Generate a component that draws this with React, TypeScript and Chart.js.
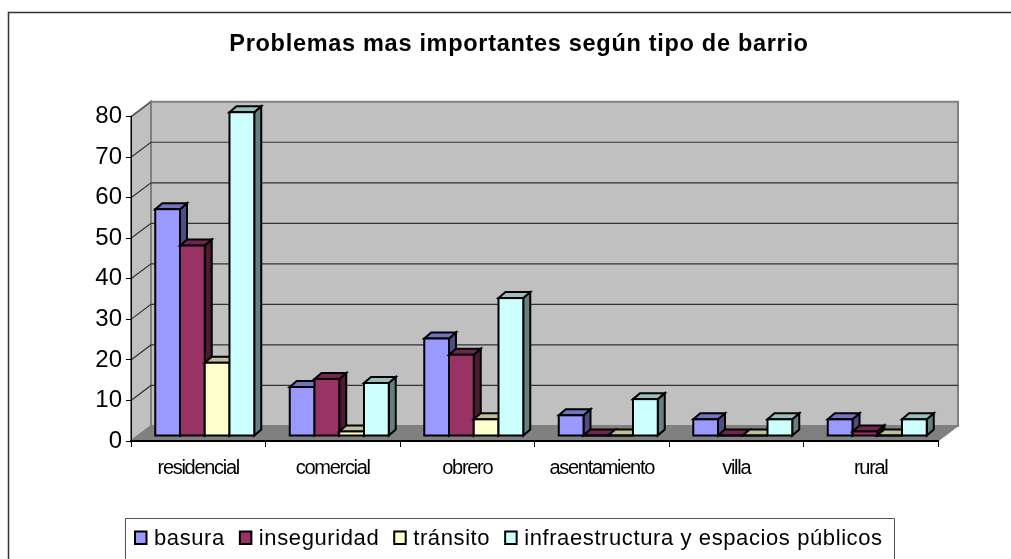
import React, { useEffect, useRef } from "react";
import { Chart, registerables } from "chart.js";

Chart.register(...registerables);

const categories = ["residencial", "comercial", "obrero", "asentamiento", "villa", "rural"];
const basura = [56, 12, 24, 5, 4, 4];
const inseguridad = [47, 14, 20, 0, 0, 1];
const transito = [18, 1, 4, 0, 0, 0];
const infraestructura = [80, 13, 34, 9, 4, 4];
const seriesNames = ["basura", "inseguridad", "tránsito", "infraestructura y espacios públicos"];
const frontColors = ["#9999FF", "#993366", "#FFFFCC", "#CCFFFF"];
const topColors = ["#7373BF", "#73264D", "#BFBF99", "#99BFBF"];
const sideColors = ["#4D4D80", "#4D1A33", "#808066", "#668080"];

const WALL_DX = 20;
const WALL_DY = -15;
const BAR_DX = 6.5;
const BAR_DY = -5.5;
const DEPTH_DX = 7;
const DEPTH_DY = -6;

const poly = (ctx: CanvasRenderingContext2D, pts: number[][], fill: string | null, stroke: string | null, lw = 1) => {
  ctx.beginPath();
  pts.forEach((p, i) => (i ? ctx.lineTo(p[0], p[1]) : ctx.moveTo(p[0], p[1])));
  ctx.closePath();
  if (fill) {
    ctx.fillStyle = fill;
    ctx.fill();
  }
  if (stroke) {
    ctx.strokeStyle = stroke;
    ctx.lineWidth = lw;
    ctx.stroke();
  }
};

const spaced = (obj: any, method: string, ctx: any, spacing: string) => {
  if (obj["__spaced_" + method]) return;
  obj["__spaced_" + method] = true;
  const original = obj[method];
  obj[method] = function (...args: any[]) {
    ctx.letterSpacing = spacing;
    const result = original.apply(this, args);
    ctx.letterSpacing = "0px";
    return result;
  };
};

const scene = {
  id: "scene",
  beforeLayout(chart: any) {
    chart.ctx.letterSpacing = "0.6px";
  },
  afterLayout(chart: any) {
    const { ctx } = chart;
    ctx.letterSpacing = "0px";
    const lg = chart.legend;
    lg.left = 120;
    lg.right = 900;
    lg.top = 513;
    lg.bottom = 559;
    chart.titleBlock.left = 27;
    chart.titleBlock.right = 1011;
    spaced(chart.titleBlock, "draw", ctx, "0.7px");
    spaced(lg, "draw", ctx, "0.6px");
    spaced(chart.scales.x, "drawLabels", ctx, "-1.3px");
  },
  beforeDraw(chart: any) {
    const { ctx, chartArea: a, scales } = chart;
    ctx.save();
    ctx.fillStyle = "#ffffff";
    ctx.fillRect(0, 0, chart.width, chart.height);
    ctx.strokeStyle = "#333333";
    ctx.lineWidth = 1.5;
    ctx.beginPath();
    ctx.moveTo(8.5, 559);
    ctx.lineTo(8.5, 12.5);
    ctx.lineTo(1011, 12.5);
    ctx.stroke();
    ctx.strokeStyle = "#555555";
    ctx.lineWidth = 1;
    ctx.beginPath();
    ctx.moveTo(125.5, 559);
    ctx.lineTo(125.5, 518.5);
    ctx.lineTo(894.5, 518.5);
    ctx.lineTo(894.5, 559);
    ctx.stroke();
    const bx0 = a.left + WALL_DX;
    const bx1 = a.right + WALL_DX;
    const by0 = a.top + WALL_DY;
    const by1 = a.bottom + WALL_DY;
    poly(ctx, [[a.left, a.top], [bx0, by0], [bx0, by1], [a.left, a.bottom]], "#C0C0C0", "#808080", 2);
    poly(ctx, [[bx0, by0], [bx1, by0], [bx1, by1], [bx0, by1]], "#C0C0C0", "#808080", 2);
    poly(ctx, [[a.left, a.bottom], [a.right, a.bottom], [bx1, by1], [bx0, by1]], "#808080", null);
    ctx.strokeStyle = "#808080";
    ctx.lineWidth = 1;
    ctx.beginPath();
    ctx.moveTo(a.right, a.bottom);
    ctx.lineTo(bx1, by1);
    ctx.stroke();
    ctx.strokeStyle = "#333333";
    ctx.lineWidth = 1.2;
    scales.y.ticks.forEach((t: any) => {
      if (t.value === 0 || t.value === 80) return;
      const y = scales.y.getPixelForValue(t.value);
      ctx.beginPath();
      ctx.moveTo(a.left, y);
      ctx.lineTo(bx0, y + WALL_DY);
      ctx.lineTo(bx1, y + WALL_DY);
      ctx.stroke();
    });
    ctx.strokeStyle = "#555555";
    ctx.beginPath();
    ctx.moveTo(a.left, a.top);
    ctx.lineTo(bx0, by0);
    ctx.stroke();
    ctx.restore();
  },
  beforeDatasetsDraw(chart: any) {
    const { ctx } = chart;
    ctx.save();
    ctx.lineJoin = "miter";
    chart.data.datasets.forEach((_: any, di: number) => {
      const meta = chart.getDatasetMeta(di);
      meta.data.forEach((el: any) => {
        const { x, y, base, width } = el.getProps(["x", "y", "base", "width"], true);
        const l = x - width / 2 + BAR_DX;
        const r = x + width / 2 + BAR_DX;
        const t = y + BAR_DY;
        const b = base + BAR_DY;
        poly(ctx, [[r, t], [r + DEPTH_DX, t + DEPTH_DY], [r + DEPTH_DX, b + DEPTH_DY], [r, b]], sideColors[di], "#000000", 2);
        poly(ctx, [[l, t], [l + DEPTH_DX, t + DEPTH_DY], [r + DEPTH_DX, t + DEPTH_DY], [r, t]], topColors[di], "#000000", 2);
        ctx.save();
        ctx.translate(BAR_DX, BAR_DY);
        el.draw(ctx);
        ctx.restore();
        ctx.strokeStyle = "#000000";
        ctx.lineWidth = 2;
        ctx.strokeRect(l, t, r - l, b - t);
      });
    });
    ctx.restore();
    return false;
  },
  afterDraw(chart: any) {
    const { ctx } = chart;
    ctx.save();
    chart.legend.legendHitBoxes.forEach((hit: any, i: number) => {
      ctx.fillStyle = frontColors[i];
      ctx.strokeStyle = "#000000";
      ctx.lineWidth = 2;
      ctx.fillRect(hit.left, 531.5, 11.5, 12.5);
      ctx.strokeRect(hit.left, 531.5, 11.5, 12.5);
    });
    ctx.restore();
  },
};

export default function App() {
  const ref = useRef<HTMLCanvasElement>(null);
  useEffect(() => {
    const seriesValues = [basura, inseguridad, transito, infraestructura];
    const chart = new Chart(ref.current as HTMLCanvasElement, {
      type: "bar",
      data: {
        labels: categories,
        datasets: seriesValues.map((values, i) => ({
          label: seriesNames[i],
          data: values,
          backgroundColor: frontColors[i],
          borderColor: "#000000",
          borderWidth: 0,
          borderSkipped: false,
          yAxisID: "yBars",
          categoryPercentage: 0.736,
          barPercentage: 1,
        })),
      },
      options: {
        responsive: false,
        animation: false,
        layout: { padding: { left: 0, right: 73, top: 0, bottom: 0 } },
        plugins: {
          title: {
            display: true,
            text: "Problemas mas importantes según tipo de barrio",
            color: "#000000",
            font: { family: "'Liberation Sans'", size: 23.5, weight: "bold", lineHeight: 1.2 },
            padding: { top: 30, bottom: 58.5 },
          },
          legend: {
            display: true,
            position: "bottom",
            align: "start",
            labels: {
              color: "#000000",
              boxWidth: 8,
              boxHeight: 8,
              padding: 15,
              font: { family: "'Liberation Sans'", size: 22 },
              generateLabels: (c: any) =>
                c.data.datasets.map((d: any, i: number) => ({
                  text: d.label,
                  fillStyle: "rgba(0,0,0,0)",
                  strokeStyle: "rgba(0,0,0,0)",
                  lineWidth: 0,
                  datasetIndex: i,
                  fontColor: "#000000",
                })),
            },
          },
          tooltip: { enabled: false },
        },
        scales: {
          x: {
            type: "category",
            grid: { drawOnChartArea: false, color: "#000000", tickLength: 6 },
            border: { color: "#000000", width: 2 },
            ticks: { color: "#000000", padding: 9, maxRotation: 0, autoSkip: false, font: { family: "'Liberation Sans'", size: 20 } },
            afterFit: (s: any) => {
              s.height = 118 - (s.chart.legend?.height ?? 0);
            },
          },
          y: {
            min: 0,
            max: 80,
            grid: { drawOnChartArea: false, color: "#000000", tickLength: 5 },
            border: { color: "#000000", width: 1 },
            ticks: { stepSize: 10, color: "#000000", padding: 4, font: { family: "'Liberation Sans'", size: 24 } },
            afterFit: (s: any) => {
              s.width = 131;
            },
          },
          yBars: { display: false, min: 0, max: 80.25 },
        },
      },
      plugins: [scene],
    } as any);
    return () => chart.destroy();
  }, []);
  return <canvas ref={ref} width={1011} height={559} style={{ position: "fixed", left: 0, top: 0, display: "block" }} />;
}
